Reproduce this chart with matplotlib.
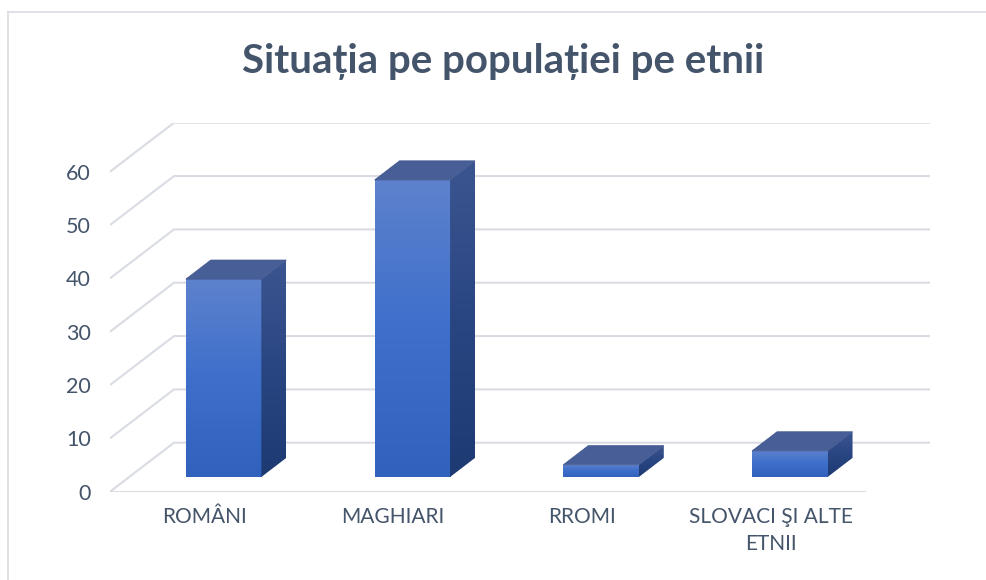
import numpy as np
import matplotlib
matplotlib.use("Agg")
import matplotlib.pyplot as plt
from matplotlib.patches import Polygon, Rectangle
from matplotlib.colors import LinearSegmentedColormap

plt.rcParams['font.family'] = ['Lato', 'DejaVu Sans']

# data (percent of population)
categories = ['ROMÂNI', 'MAGHIARI', 'RROMI', 'SLOVACI ŞI ALTE\nETNII']
values = [37.1, 55.7, 2.3, 4.9]
yticks = [0, 10, 20, 30, 40, 50, 60]
title = 'Situația pe populației pe etnii'

text_col = '#44546A'
grid_col = '#D9DCE3'

W, H = 986, 580
fig = plt.figure(figsize=(W / 100, H / 100), dpi=100)

# axes box spans front-left corner to back-right corner of the 3d box (pixels)
left_px, right_px = 110, 930
bot_px, top_px = 491.7, 123.3
ax = fig.add_axes([left_px / W, (H - bot_px) / H,
                   (right_px - left_px) / W, (bot_px - top_px) / H])

px_cat = 755 / 4          # pixels per category on the front plane
px_val = 320 / 60         # pixels per value unit
xmin = -0.5
xmax = xmin + (right_px - left_px) / px_cat
ymax = (bot_px - top_px) / px_val
DX = 64 / px_cat          # depth offset in data units
DY = 49 / px_val


def proj(x, v, d):
    # oblique projection: depth d in [0, 1]
    return (x + d * DX, v + d * DY)


# gridlines: front diagonal + back wall line
for v in yticks:
    p0 = proj(xmin, v, 0)
    p1 = proj(xmin, v, 1)
    p2 = (xmax, v + DY)
    ax.plot([p0[0], p1[0], p2[0]], [p0[1], p1[1], p2[1]],
            color=grid_col, lw=1.5, zorder=1, solid_capstyle='butt')
# floor front edge
ax.plot([xmin, xmin + 4], [0, 0], color=grid_col, lw=1.5, zorder=1)

front_cmap = LinearSegmentedColormap.from_list('front', ['#2F61BD', '#3D6FCB', '#5E82CD'])
side_cmap = LinearSegmentedColormap.from_list('side', ['#1D3A73', '#2A4682', '#3B5590'])
top_col = '#485E97'

bw = 0.4
d0, d1 = 0.30, 0.69
grad = np.linspace(0, 1, 256).reshape(-1, 1)

for i, v in enumerate(values):
    xl, xr = i - bw / 2, i + bw / 2
    # front face
    fx0, fy0 = proj(xl, 0, d0)
    fx1, fy1 = proj(xr, v, d0)
    rect = Rectangle((fx0, fy0), fx1 - fx0, fy1 - fy0, facecolor='none',
                     edgecolor='none', zorder=3)
    ax.add_patch(rect)
    im = ax.imshow(grad, cmap=front_cmap, origin='lower', aspect='auto',
                   extent=[fx0, fx1, fy0, fy1], zorder=3)
    im.set_clip_path(rect)
    # side face
    side = [proj(xr, 0, d0), proj(xr, 0, d1), proj(xr, v, d1), proj(xr, v, d0)]
    sp = Polygon(side, closed=True, facecolor='none', edgecolor='none', zorder=3)
    ax.add_patch(sp)
    sx = [p[0] for p in side]
    sy = [p[1] for p in side]
    im2 = ax.imshow(grad, cmap=side_cmap, origin='lower', aspect='auto',
                    extent=[min(sx), max(sx), min(sy), max(sy)], zorder=3)
    im2.set_clip_path(sp)
    # top face
    top = [proj(xl, v, d0), proj(xr, v, d0), proj(xr, v, d1), proj(xl, v, d1)]
    ax.add_patch(Polygon(top, closed=True, facecolor=top_col,
                         edgecolor='#40558C', lw=0.5, zorder=4))

ax.set_xlim(xmin, xmax)
ax.set_ylim(0, ymax)
for s in ax.spines.values():
    s.set_visible(False)
ax.set_yticks(yticks)
ax.set_yticklabels([str(t) for t in yticks])
ax.set_xticks(range(len(categories)))
ax.set_xticklabels(categories, linespacing=1.45)
ax.tick_params(axis='y', length=0, pad=14, labelsize=15.5, labelcolor=text_col)
ax.tick_params(axis='x', length=0, pad=11, labelsize=15, labelcolor=text_col)
ax.patch.set_alpha(0)

fig.text(503.5 / W, 1 - 61 / H, title, ha='center', va='center',
         fontsize=29, fontweight='bold', color=text_col)

# outer chart border (top and left edges visible)
fig.add_artist(plt.Line2D([8 / W, 1], [1 - 11.5 / H, 1 - 11.5 / H],
                          color=grid_col, lw=1.2))
fig.add_artist(plt.Line2D([8 / W, 8 / W], [0, 1 - 11.5 / H],
                          color=grid_col, lw=1.2))

fig.savefig('out.png', dpi=100)
